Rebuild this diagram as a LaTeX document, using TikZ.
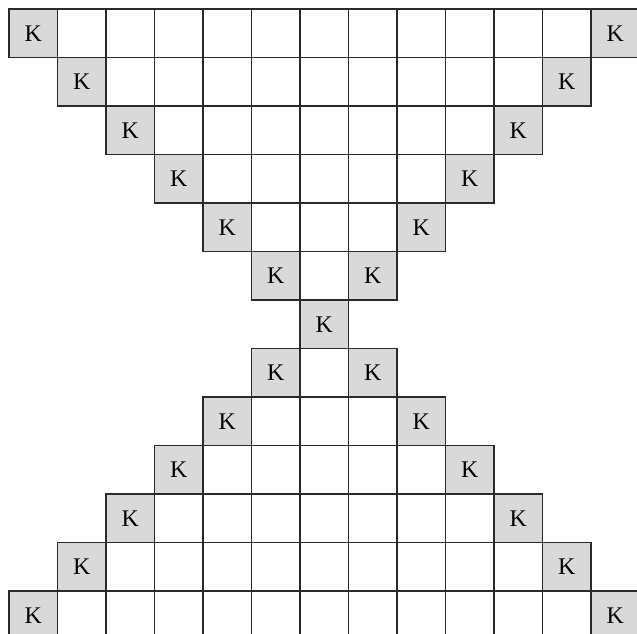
\documentclass[tikz,border=0pt]{standalone}
\usepackage{fontspec}
\setmainfont{Liberation Serif}
\usepackage{xcolor}
\definecolor{cellGray}{HTML}{D9D9D9}
\definecolor{lineDark}{HTML}{2A2A2A}
\usepackage{tikz}
\usetikzlibrary{positioning}
\tikzset{
    % Base style for every cell of the grid
    cell/.style={
        rectangle,
        draw=lineDark,
        line width=0.7pt,
        minimum size=1cm,
        inner sep=0pt,
        font=\fontsize{14}{16}\selectfont,
    },
    % Cells on the edge of the hourglass
    kcell/.style={
        cell,
        fill=cellGray,
    },
}

\begin{document}
\begin{tikzpicture}
    \clip (-0.186,0.186) rectangle (12.948,-12.866);
    \foreach \r in {0,...,12}{
        \pgfmathtruncatemacro{\d}{min(\r,12-\r)}
        \pgfmathtruncatemacro{\e}{12-\d}
        \foreach \c in {\d,...,\e}{
            \ifnum\c=\d
                \node (cell-\r-\c) [kcell] at (\c+0.5,-\r-0.5) {K};
            \else\ifnum\c=\e
                \node (cell-\r-\c) [kcell] at (\c+0.5,-\r-0.5) {K};
            \else
                \node (cell-\r-\c) [cell] at (\c+0.5,-\r-0.5) {};
            \fi\fi
        }
    }
\end{tikzpicture}
\end{document}
